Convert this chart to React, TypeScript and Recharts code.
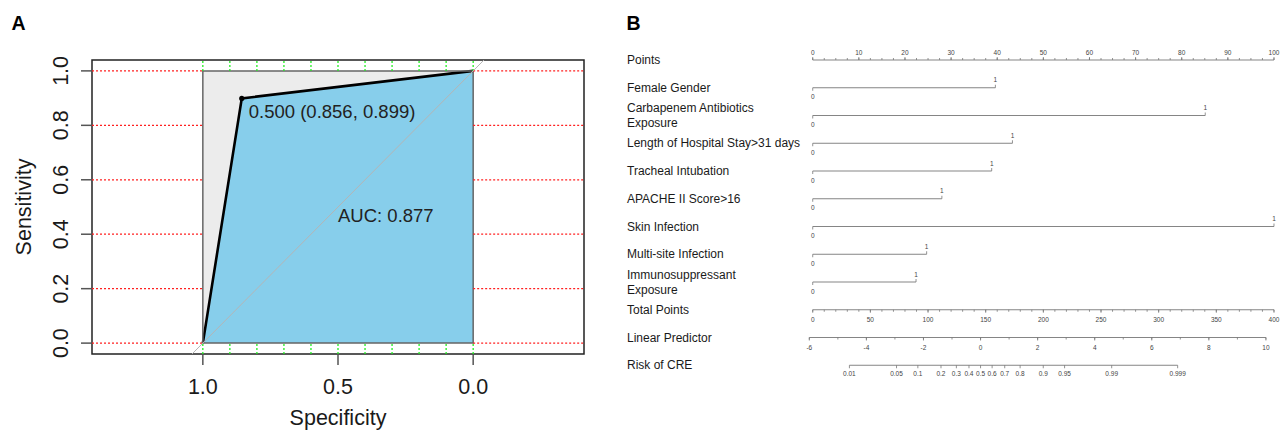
import React from "react";
import { ComposedChart, XAxis, YAxis, Area, Scatter, ReferenceLine, ReferenceArea } from "recharts";

const FONT = "'Liberation Sans', Arial, Helvetica, sans-serif";

// ---------- panel A: ROC curve ----------
const rocSpecificity = [1, 0.856, 0];
const rocSensitivity = [0, 0.899, 1];
const bestThreshold = 0.5;
const bestSpecificity = 0.856;
const bestSensitivity = 0.899;
const aucValue = 0.877;
const sensTicks = [0, 0.2, 0.4, 0.6, 0.8, 1];
const specTicks = [1, 0.5, 0];
const specGrid = [1, 0.9, 0.8, 0.7, 0.6, 0.5, 0.4, 0.3, 0.2, 0.1, 0];

// ---------- panel B: nomogram ----------
const rowLabels = [
  "Points",
  "Female Gender",
  "Carbapenem Antibiotics\nExposure",
  "Length of Hospital Stay>31 days",
  "Tracheal Intubation",
  "APACHE II Score>16",
  "Skin Infection",
  "Multi-site Infection",
  "Immunosuppressant\nExposure",
  "Total Points",
  "Linear Predictor",
  "Risk of CRE",
];
const factorPoints = [39.6, 85.1, 43.3, 38.8, 28.0, 100, 24.7, 22.4];
const pointsTicks = [0, 10, 20, 30, 40, 50, 60, 70, 80, 90, 100];
const totalTicks = [0, 50, 100, 150, 200, 250, 300, 350, 400];
const lpTicks = [-6, -4, -2, 0, 2, 4, 6, 8, 10];
const riskTicks = ["0.01", "0.05", "0.1", "0.2", "0.3", "0.4", "0.5", "0.6", "0.7", "0.8", "0.9", "0.95", "0.99", "0.999"];

const rocData = rocSpecificity.map((s, i) => ({ spec: s, sens: rocSensitivity[i] }));

const fmt = (v: number) => v.toFixed(3);

function stepTicks(from: number, to: number, step: number) {
  const out: number[] = [];
  for (let v = from; v <= to + 1e-9; v += step) out.push(v);
  return out;
}

const logit = (p: number) => Math.log(p / (1 - p));

const RotTick = (p: any) => {
  const bx = p.x - 11;
  return (
    <text x={bx} y={p.y} transform={`rotate(-90 ${bx} ${p.y})`} textAnchor="middle" fontSize={21.5} fill="#1a1a1a" fontFamily={FONT}>
      {Number(p.payload.value).toFixed(1)}
    </text>
  );
};

const SensLabel = (p: any) => {
  const vb = p.viewBox || { y: 60, height: 294 };
  const cy = vb.y + vb.height / 2;
  return (
    <text x={31} y={cy} transform={`rotate(-90 31 ${cy})`} textAnchor="middle" fontSize={21.5} fill="#1a1a1a" fontFamily={FONT}>
      Sensitivity
    </text>
  );
};

const CutoffShape = (p: any) => (
  <g>
    <circle cx={p.cx} cy={p.cy} r={2.6} fill="#000" />
    <text x={p.cx + 7} y={p.cy + 20} fontSize={18.5} fill="#222" fontFamily={FONT}>
      {p.payload.text}
    </text>
  </g>
);

const AucShape = (p: any) => (
  <text x={p.cx} y={p.cy + 15} fontSize={18.5} fill="#222" fontFamily={FONT}>
    {p.payload.text}
  </text>
);

function RocPanel() {
  const redSegs: any[] = [];
  sensTicks.forEach((s) => {
    redSegs.push([{ x: 1.41, y: s }, { x: 1, y: s }]);
    redSegs.push([{ x: 0, y: s }, { x: -0.41, y: s }]);
  });
  const greenSegs: any[] = [];
  specGrid.forEach((g) => {
    greenSegs.push([{ x: g, y: 1 }, { x: g, y: 1.04 }]);
    greenSegs.push([{ x: g, y: -0.04 }, { x: g, y: 0 }]);
  });
  return (
    <ComposedChart width={600} height={431} data={rocData} margin={{ top: 60, right: 16, bottom: 0, left: 0 }}>
      <XAxis
        dataKey="spec"
        type="number"
        domain={[-0.41, 1.41]}
        reversed
        ticks={specTicks}
        interval={0}
        tickFormatter={(v) => Number(v).toFixed(1)}
        axisLine={false}
        tickSize={11}
        tickMargin={14}
        tickLine={{ stroke: "#555", strokeWidth: 1.5 }}
        tick={{ fontSize: 21.5, fill: "#1a1a1a", fontFamily: FONT }}
        height={77}
        label={{ value: "Specificity", position: "insideBottom", offset: 6, fontSize: 21.5, fill: "#1a1a1a", fontFamily: FONT }}
      />
      <YAxis
        dataKey="sens"
        type="number"
        domain={[-0.04, 1.04]}
        ticks={sensTicks}
        interval={0}
        width={92}
        axisLine={false}
        tickSize={11}
        tickLine={{ stroke: "#555", strokeWidth: 1.5 }}
        tick={<RotTick />}
        label={{ content: SensLabel }}
      />
      {redSegs.map((seg, i) => (
        <ReferenceLine key={"r" + i} segment={seg} stroke="#FF2020" strokeWidth={1.3} strokeDasharray="2 2" />
      ))}
      {greenSegs.map((seg, i) => (
        <ReferenceLine key={"g" + i} segment={seg} stroke="#22EE22" strokeWidth={1.3} strokeDasharray="2 2" />
      ))}
      <ReferenceArea x1={1} x2={0} y1={0} y2={1} fill="#ECECEC" fillOpacity={1} stroke="none" />
      <Area
        dataKey="sens"
        type="linear"
        baseValue={0}
        stroke="#000"
        strokeWidth={2.6}
        fill="#87CEEB"
        fillOpacity={1}
        dot={false}
        activeDot={false}
        isAnimationActive={false}
      />
      <ReferenceArea x1={1} x2={0} y1={0} y2={1} fill="none" stroke="#666" strokeWidth={1.5} />
      <ReferenceLine segment={[{ x: 1.04, y: -0.04 }, { x: -0.04, y: 1.04 }]} stroke="#B5B5B5" strokeWidth={1} />
      <Scatter
        data={[{ spec: bestSpecificity, sens: bestSensitivity, text: `${fmt(bestThreshold)} (${fmt(bestSpecificity)}, ${fmt(bestSensitivity)})` }]}
        shape={CutoffShape}
        isAnimationActive={false}
      />
      <Scatter data={[{ spec: 0.5, sens: 0.5, text: `AUC: ${fmt(aucValue)}` }]} shape={AucShape} isAnimationActive={false} />
      <ReferenceArea x1={1.41} x2={-0.41} y1={-0.04} y2={1.04} fill="none" stroke="#222" strokeWidth={1.5} ifOverflow="visible" />
    </ComposedChart>
  );
}

// nomogram tick drawer: dir -1 = up, +1 = down
function tickShape(dir: number, len: number, labelOffset: number) {
  return (p: any) => (
    <g>
      <line x1={p.cx} x2={p.cx} y1={p.cy} y2={p.cy + dir * len} stroke="#777" strokeWidth={0.8} />
      {p.payload.label !== undefined && (
        <text x={p.cx} y={p.cy + labelOffset} textAnchor="middle" dominantBaseline="central" fontSize={6.5} fill="#444" fontFamily={FONT}>
          {p.payload.label}
        </text>
      )}
    </g>
  );
}

const RowLabel = (p: any) => {
  const lines = rowLabels[p.payload.value].split("\n");
  const start = p.y - ((lines.length - 1) * 15) / 2;
  return (
    <text x={27} y={start} fontSize={12} fill="#1a1a1a" fontFamily={FONT} dominantBaseline="central">
      {lines.map((l: string, i: number) => (
        <tspan key={i} x={27} y={start + i * 15}>
          {l}
        </tspan>
      ))}
    </text>
  );
};

function NomogramPanel() {
  const rows = rowLabels.map((_, i) => i);
  const ptsRow = 0;
  const totRow = 9;
  const lpRow = 10;
  const riskRow = 11;
  const lineColor = "#858585";

  const ptsMajor = pointsTicks.map((v) => ({ x: v, y: ptsRow, label: String(v) }));
  const ptsMinor = stepTicks(0, 100, 2.5).map((v) => ({ x: v, y: ptsRow }));
  const totMajor = totalTicks.map((v) => ({ x: v, y: totRow, label: String(v) }));
  const totMinor = stepTicks(0, 400, 10).map((v) => ({ x: v, y: totRow }));
  const lpMajor = lpTicks.map((v) => ({ x: v, y: lpRow, label: String(v) }));
  const lpMinor = stepTicks(-6, 10, 1).map((v) => ({ x: v, y: lpRow }));
  const riskMajor = riskTicks.map((t) => ({ x: logit(parseFloat(t)), y: riskRow, label: t }));
  const zeros = factorPoints.map((_, i) => ({ x: 0, y: i + 1, label: "0" }));
  const ones = factorPoints.map((v, i) => ({ x: v, y: i + 1, label: "1" }));

  return (
    <ComposedChart width={684} height={431} margin={{ top: 60, right: 0.8, bottom: 65.75, left: 0 }}>
      <XAxis xAxisId="pts" dataKey="x" type="number" domain={[-2, 102]} hide />
      <XAxis xAxisId="tot" dataKey="x" type="number" domain={[-8, 408]} hide />
      <XAxis xAxisId="lp" dataKey="x" type="number" domain={[-6.204, 10.605]} hide />
      <YAxis
        dataKey="y"
        type="number"
        domain={[0, 11]}
        reversed
        ticks={rows}
        interval={0}
        width={203.5}
        axisLine={false}
        tickLine={false}
        tick={<RowLabel />}
      />
      <ReferenceLine xAxisId="pts" segment={[{ x: 0, y: ptsRow }, { x: 100, y: ptsRow }]} stroke={lineColor} />
      {factorPoints.map((v, i) => (
        <ReferenceLine key={i} xAxisId="pts" segment={[{ x: 0, y: i + 1 }, { x: v, y: i + 1 }]} stroke={lineColor} />
      ))}
      <ReferenceLine xAxisId="tot" segment={[{ x: 0, y: totRow }, { x: 400, y: totRow }]} stroke={lineColor} />
      <ReferenceLine xAxisId="lp" segment={[{ x: -6, y: lpRow }, { x: 10, y: lpRow }]} stroke={lineColor} />
      <ReferenceLine
        xAxisId="lp"
        segment={[{ x: logit(parseFloat(riskTicks[0])), y: riskRow }, { x: logit(parseFloat(riskTicks[riskTicks.length - 1])), y: riskRow }]}
        stroke={lineColor}
      />
      <Scatter xAxisId="pts" data={ptsMinor} shape={tickShape(-1, 2, 0)} isAnimationActive={false} />
      <Scatter xAxisId="pts" data={ptsMajor} shape={tickShape(-1, 3, -8)} isAnimationActive={false} />
      <Scatter xAxisId="pts" data={zeros} shape={tickShape(1, 3, 9)} isAnimationActive={false} />
      <Scatter xAxisId="pts" data={ones} shape={tickShape(-1, 3, -8)} isAnimationActive={false} />
      <Scatter xAxisId="tot" data={totMinor} shape={tickShape(1, 2, 0)} isAnimationActive={false} />
      <Scatter xAxisId="tot" data={totMajor} shape={tickShape(1, 3, 9.7)} isAnimationActive={false} />
      <Scatter xAxisId="lp" data={lpMinor} shape={tickShape(1, 2, 0)} isAnimationActive={false} />
      <Scatter xAxisId="lp" data={lpMajor} shape={tickShape(1, 3, 9.7)} isAnimationActive={false} />
      <Scatter xAxisId="lp" data={riskMajor} shape={tickShape(1, 3, 8.7)} isAnimationActive={false} />
    </ComposedChart>
  );
}

export default function App() {
  return (
    <div style={{ position: "absolute", left: 0, top: 0, width: 1284, height: 431, overflow: "hidden", background: "#fff", fontFamily: FONT }}>
      <div style={{ position: "absolute", left: 0, top: 0 }}>
        <RocPanel />
      </div>
      <div style={{ position: "absolute", left: 600, top: 0 }}>
        <NomogramPanel />
      </div>
      <svg width={1284} height={431} style={{ position: "absolute", left: 0, top: 0, pointerEvents: "none" }}>
        <text x={11.5} y={30} fontSize={19.5} fontWeight="bold" fill="#000" fontFamily={FONT}>A</text>
        <text x={626.5} y={30} fontSize={19.5} fontWeight="bold" fill="#000" fontFamily={FONT}>B</text>
      </svg>
    </div>
  );
}
